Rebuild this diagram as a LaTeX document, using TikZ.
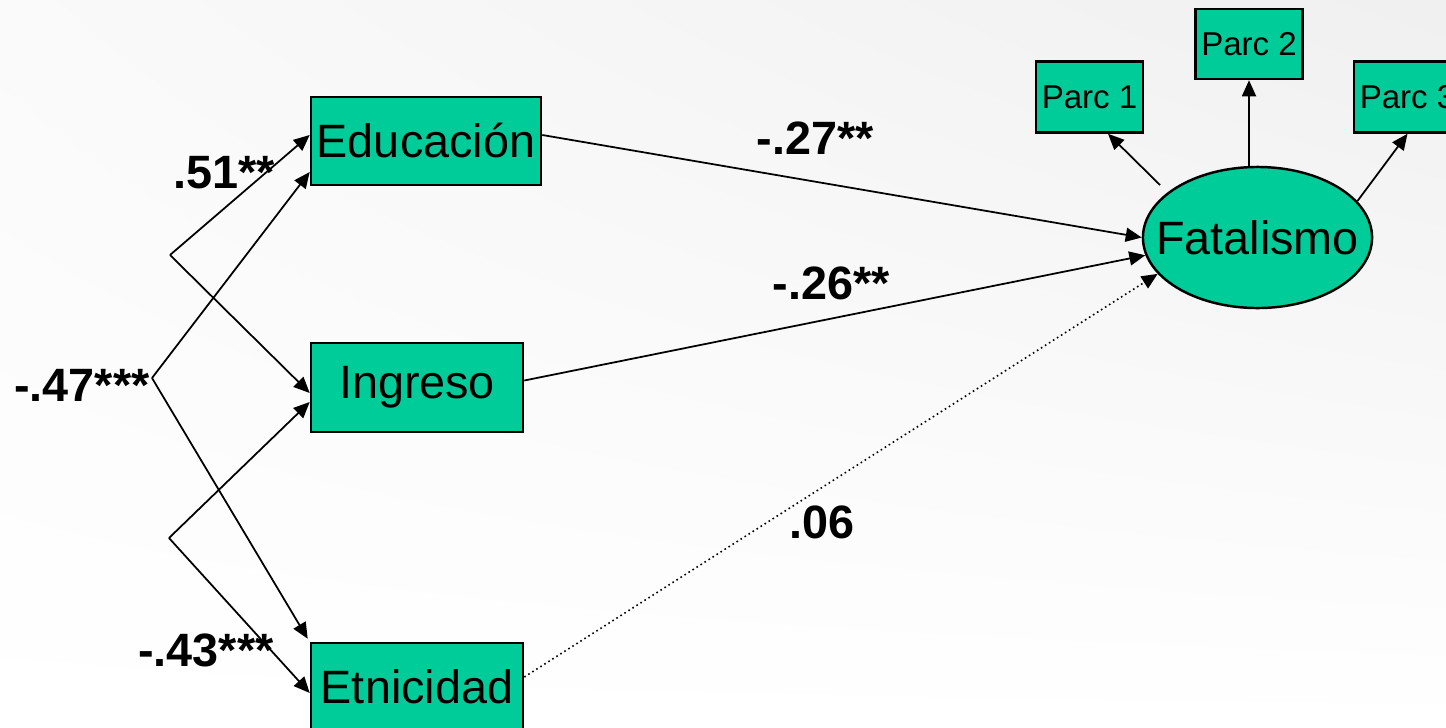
\documentclass[tikz,border=0pt]{standalone}
\usepackage{fontspec}
\setmainfont{Liberation Sans}
\usetikzlibrary{shapes.geometric,arrows.meta,shadings}
\definecolor{semgreen}{RGB}{0,204,153}
\tikzset{
  varbox/.style={draw=black, line width=0.7pt, fill=semgreen, inner sep=0pt,
    font=\fontsize{13.3}{16}\selectfont},
  parcbox/.style={draw=black, line width=0.7pt, fill=semgreen, inner sep=0pt,
    minimum width=1.07cm, minimum height=0.71cm, font=\fontsize{9.4}{11}\selectfont},
  latent/.style={ellipse, draw=black, line width=0.7pt, fill=semgreen, inner xsep=-0.215cm, inner ysep=0pt,
    minimum width=2.29cm, minimum height=1.41cm, font=\fontsize{13.3}{16}\selectfont},
  arr/.style={line width=0.5pt, -{Triangle[length=0.16cm,width=0.14cm]}},
  dotarr/.style={line width=0.45pt, dash pattern=on 0.45pt off 0.9pt, -{Triangle[length=0.16cm,width=0.14cm]}},
  corr/.style={line width=0.5pt},
  coef/.style={font=\bfseries\fontsize{13.3}{16}\selectfont, inner sep=0pt}
}
\begin{document}
\begin{tikzpicture}[x=0.01cm, y=-0.01cm]
\useasboundingbox (0,0) rectangle (1446,727);
\shade[upper right=black!6, upper left=black!2, lower right=white, lower left=white] (0,0) rectangle (1446,727);

% observed variables
\node[varbox, minimum width=2.30cm, minimum height=0.88cm] (edu) at (426,141) {Educación};
\node[varbox, minimum width=2.12cm, minimum height=0.89cm] (ing) at (417,387.5) {Ingreso};
\node[varbox, minimum width=2.12cm, minimum height=0.88cm] (et) at (417,687) {Etnicidad};

% latent and indicators
\node[latent] (fat) at (1257.5,237.5) {Fatalismo};
\node[parcbox] (p1) at (1089.5,97) {Parc 1};
\node[parcbox, minimum height=0.70cm] (p2) at (1249,44) {Parc 2};
\node[parcbox] (p3) at (1407.5,97) {Parc 3};

% indicator arrows
\coordinate (c1) at (1160,185);
\draw[arr] (c1) -- ([xshift=0.185cm]p1.south);
\draw[arr] (p2.south |- fat.north) -- (p2.south);
\draw[arr] (fat.20) -- (p3.south);

% structural paths
\draw[arr] ([yshift=0.06cm]edu.east) -- (fat.west);
\draw[arr] ([yshift=0.07cm]ing.east) -- (fat.189);
\draw[dotarr] ([yshift=0.10cm]et.east) -- (fat.200);

% correlations
\coordinate (v1) at (170,255);
\coordinate (v2) at (152,378);
\coordinate (v3) at (169,538);
\draw[corr] (v1) edge[arr] ([yshift=0.06cm]edu.west)
                 edge[arr] ([yshift=-0.055cm]ing.west);
\draw[corr] (v2) edge[arr] ([yshift=-0.31cm]edu.west)
                 edge[arr] ([xshift=-0.02cm,yshift=0.03cm]et.north west);
\draw[corr] (v3) edge[arr] ([yshift=-0.145cm]ing.west)
                 edge[arr] ([yshift=-0.06cm]et.west);

% coefficients
\node[coef] (l51) at (224,173) {.51**};
\node[coef] (l47) at (82,385) {-.47***};
\node[coef] (l43) at (206,650) {-.43***};
\node[coef] (l27) at (815,138) {-.27**};
\node[coef] (l26) at (831,283) {-.26**};
\node[coef] (l06) at (822,522) {.06};
\end{tikzpicture}
\end{document}
